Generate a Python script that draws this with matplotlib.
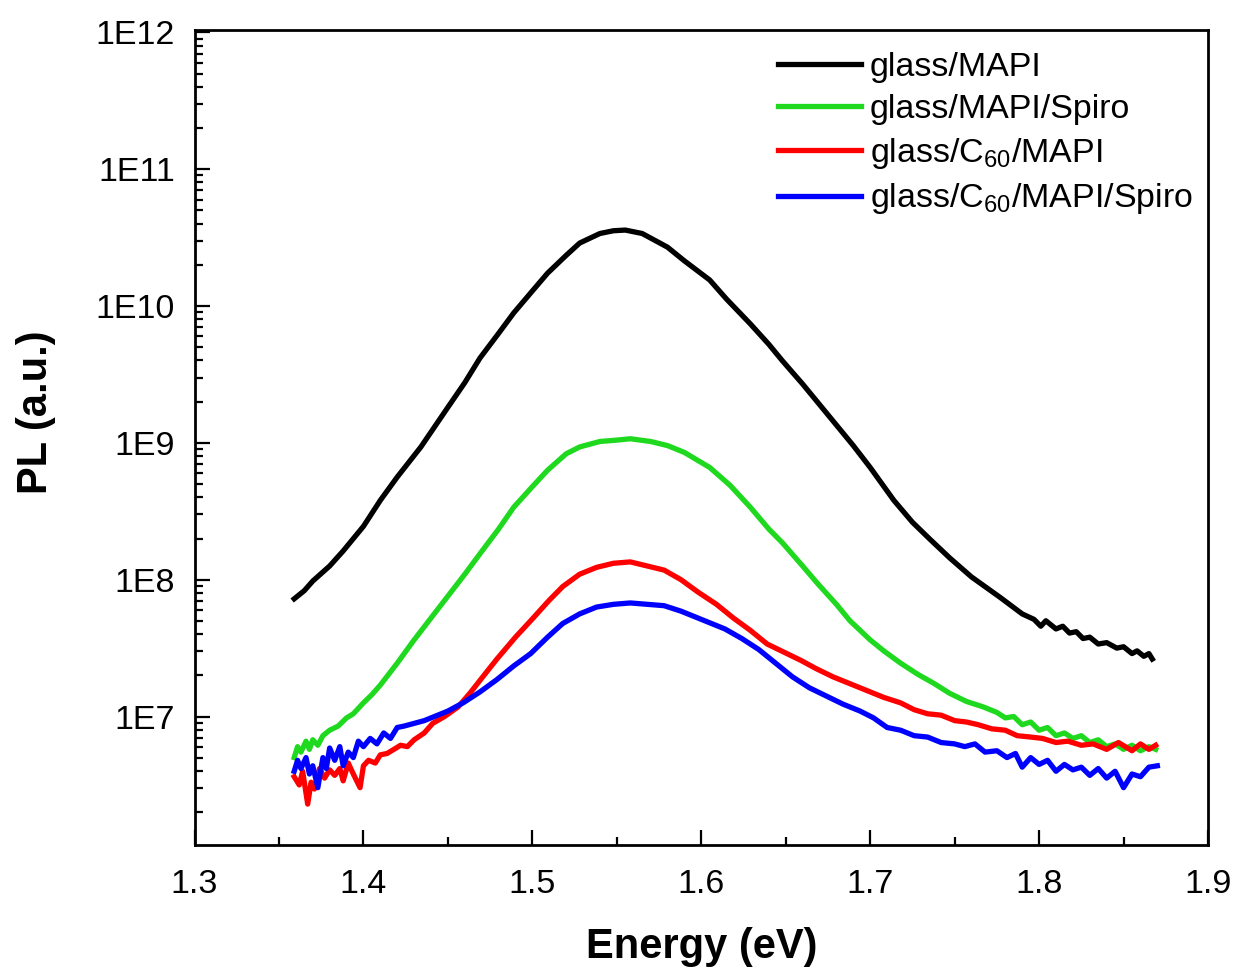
import numpy as np
import matplotlib
matplotlib.use('Agg')
import matplotlib.pyplot as plt
from matplotlib.ticker import FuncFormatter, LogLocator, MultipleLocator

plt.rcParams['font.family'] = ['Liberation Sans', 'DejaVu Sans']
plt.rcParams['mathtext.default'] = 'regular'

# =============================================================================
# PL spectra (energy in eV, PL as log10 of intensity)
# =============================================================================

black_e = [1.359, 1.365, 1.370, 1.380, 1.388, 1.400, 1.410, 1.420, 1.434, 1.450,
           1.460, 1.469, 1.480, 1.489, 1.500, 1.509, 1.520, 1.528, 1.540, 1.548,
           1.555, 1.565, 1.580, 1.590, 1.605, 1.615, 1.629, 1.640, 1.648, 1.660,
           1.678, 1.690, 1.700, 1.714, 1.725, 1.735, 1.747, 1.760, 1.777, 1.790,
           1.797, 1.801, 1.804, 1.810, 1.814, 1.818, 1.822, 1.826, 1.830, 1.835,
           1.840, 1.846, 1.850, 1.855, 1.858, 1.862, 1.865, 1.867]
black_log = [7.86, 7.92, 7.99, 8.10, 8.21, 8.39, 8.58, 8.75, 8.97, 9.26,
             9.44, 9.62, 9.80, 9.95, 10.11, 10.24, 10.37, 10.46, 10.53, 10.55,
             10.555, 10.53, 10.43, 10.33, 10.19, 10.05, 9.87, 9.72, 9.60, 9.43,
             9.16, 8.98, 8.82, 8.58, 8.42, 8.30, 8.16, 8.02, 7.87, 7.75,
             7.71, 7.66, 7.70, 7.64, 7.66, 7.61, 7.62, 7.57, 7.58, 7.53,
             7.54, 7.50, 7.51, 7.46, 7.48, 7.44, 7.46, 7.42]

green_e = [1.359, 1.361, 1.363, 1.366, 1.368, 1.370, 1.373, 1.376, 1.380, 1.385,
           1.390, 1.394, 1.400, 1.405, 1.410, 1.420, 1.430, 1.440, 1.450, 1.460,
           1.469, 1.480, 1.489, 1.500, 1.509, 1.520, 1.528, 1.540, 1.550, 1.558,
           1.570, 1.580, 1.590, 1.605, 1.617, 1.629, 1.640, 1.648, 1.660, 1.669,
           1.680, 1.688, 1.700, 1.708, 1.718, 1.728, 1.738, 1.747, 1.757, 1.767,
           1.775, 1.780, 1.785, 1.790, 1.795, 1.800, 1.805, 1.810, 1.815, 1.820,
           1.825, 1.830, 1.835, 1.840, 1.845, 1.850, 1.855, 1.860, 1.865, 1.869]
green_log = [6.70, 6.78, 6.74, 6.82, 6.76, 6.83, 6.79, 6.86, 6.90, 6.93,
             6.99, 7.02, 7.10, 7.16, 7.23, 7.39, 7.56, 7.72, 7.88, 8.04,
             8.19, 8.37, 8.53, 8.68, 8.80, 8.92, 8.97, 9.01, 9.02, 9.03,
             9.01, 8.98, 8.93, 8.82, 8.69, 8.53, 8.37, 8.27, 8.10, 7.97,
             7.82, 7.70, 7.56, 7.48, 7.39, 7.31, 7.24, 7.17, 7.11, 7.07,
             7.03, 6.99, 7.00, 6.94, 6.96, 6.90, 6.92, 6.86, 6.88, 6.84,
             6.86, 6.81, 6.83, 6.78, 6.80, 6.76, 6.79, 6.75, 6.78, 6.76]

red_e = [1.359, 1.362, 1.364, 1.367, 1.369, 1.371, 1.374, 1.377, 1.380, 1.383,
         1.386, 1.388, 1.391, 1.394, 1.398, 1.400, 1.403, 1.407, 1.410, 1.414,
         1.418, 1.422, 1.426, 1.430, 1.436, 1.441, 1.448, 1.456, 1.463, 1.470,
         1.479, 1.490, 1.499, 1.510, 1.518, 1.528, 1.538, 1.548, 1.558, 1.568,
         1.578, 1.588, 1.598, 1.609, 1.619, 1.629, 1.639, 1.649, 1.659, 1.668,
         1.678, 1.688, 1.698, 1.708, 1.718, 1.726, 1.734, 1.742, 1.750, 1.757,
         1.764, 1.772, 1.780, 1.787, 1.795, 1.802, 1.810, 1.817, 1.825, 1.832,
         1.840, 1.847, 1.855, 1.860, 1.865, 1.869]
red_log = [6.56, 6.50, 6.60, 6.36, 6.52, 6.47, 6.62, 6.55, 6.61, 6.57,
           6.62, 6.53, 6.66, 6.58, 6.48, 6.64, 6.68, 6.66, 6.72, 6.73,
           6.76, 6.79, 6.78, 6.83, 6.88, 6.95, 7.00, 7.07, 7.17, 7.28,
           7.42, 7.58, 7.70, 7.85, 7.95, 8.04, 8.09, 8.12, 8.13, 8.10,
           8.07, 8.00, 7.91, 7.82, 7.72, 7.63, 7.53, 7.47, 7.41, 7.35,
           7.29, 7.24, 7.19, 7.14, 7.10, 7.05, 7.02, 7.01, 6.97, 6.96,
           6.94, 6.91, 6.90, 6.86, 6.85, 6.84, 6.81, 6.82, 6.79, 6.80,
           6.76, 6.81, 6.75, 6.80, 6.76, 6.79]

blue_e = [1.359, 1.361, 1.363, 1.366, 1.368, 1.370, 1.373, 1.376, 1.378, 1.380,
          1.383, 1.386, 1.388, 1.391, 1.394, 1.397, 1.400, 1.404, 1.408, 1.412,
          1.416, 1.420, 1.424, 1.430, 1.436, 1.442, 1.450, 1.459, 1.469, 1.479,
          1.489, 1.499, 1.509, 1.518, 1.528, 1.538, 1.548, 1.558, 1.568, 1.578,
          1.588, 1.598, 1.606, 1.614, 1.624, 1.634, 1.644, 1.654, 1.664, 1.674,
          1.684, 1.694, 1.702, 1.710, 1.718, 1.726, 1.734, 1.742, 1.750, 1.756,
          1.762, 1.768, 1.775, 1.781, 1.786, 1.790, 1.795, 1.800, 1.805, 1.810,
          1.815, 1.820, 1.825, 1.830, 1.835, 1.840, 1.845, 1.850, 1.855, 1.860,
          1.865, 1.870]
blue_log = [6.60, 6.68, 6.62, 6.70, 6.58, 6.64, 6.48, 6.70, 6.62, 6.77,
            6.68, 6.78, 6.64, 6.74, 6.70, 6.82, 6.78, 6.84, 6.80, 6.88,
            6.84, 6.92, 6.93, 6.95, 6.97, 7.00, 7.04, 7.10, 7.18, 7.27,
            7.37, 7.46, 7.58, 7.68, 7.75, 7.80, 7.82, 7.83, 7.82, 7.81,
            7.77, 7.72, 7.68, 7.64, 7.57, 7.49, 7.39, 7.29, 7.21, 7.15,
            7.09, 7.04, 6.99, 6.92, 6.90, 6.86, 6.85, 6.81, 6.80, 6.78,
            6.80, 6.74, 6.75, 6.70, 6.73, 6.63, 6.70, 6.65, 6.68, 6.60,
            6.65, 6.61, 6.63, 6.57, 6.62, 6.55, 6.60, 6.48, 6.58, 6.56,
            6.63, 6.64]

labels = ['glass/MAPI', 'glass/MAPI/Spiro', 'glass/C$_{60}$/MAPI',
          'glass/C$_{60}$/MAPI/Spiro']
colors = ['#000000', '#1ed91e', '#ff0000', '#0000ff']

fig = plt.figure(figsize=(12.39, 9.68), dpi=100)
ax = fig.add_axes([0.157, 0.127, 0.818, 0.842])

series = [(black_e, black_log), (green_e, green_log), (red_e, red_log), (blue_e, blue_log)]
for (e, lg), lab, c in zip(series, labels, colors):
    ax.plot(e, 10 ** np.array(lg), color=c, lw=3.8, label=lab, solid_joinstyle='round')

ax.set_yscale('log')
ax.set_xlim(1.3, 1.9)
ax.set_ylim(1.15e6, 1.04e12)

ax.xaxis.set_major_locator(MultipleLocator(0.1))
ax.xaxis.set_minor_locator(MultipleLocator(0.05))
ax.yaxis.set_major_locator(LogLocator(base=10, numticks=20))
ax.yaxis.set_minor_locator(LogLocator(base=10, subs=np.arange(2, 10), numticks=20))
ax.yaxis.set_major_formatter(FuncFormatter(lambda v, p: '1E%d' % round(np.log10(v))))
ax.yaxis.set_minor_formatter(FuncFormatter(lambda v, p: ''))

ax.tick_params(which='both', direction='in', top=False, right=False, width=1.6, labelsize=24.5)
ax.tick_params(axis='y', which='major', length=11, pad=14)
ax.tick_params(axis='x', which='major', length=11, pad=17)
ax.tick_params(which='minor', length=5.5)
for s in ax.spines.values():
    s.set_linewidth(2)

ax.set_xlabel('Energy (eV)', fontsize=30, fontweight='bold', labelpad=20)
ax.set_ylabel('PL (a.u.)', fontsize=30, fontweight='bold')
ax.yaxis.set_label_coords(-0.137, 0.531)

ax.legend(loc='upper left', bbox_to_anchor=(0.562, 0.99), frameon=False, fontsize=24.5,
          handlelength=2.45, handletextpad=0.25, labelspacing=0.32, borderaxespad=0)

fig.savefig('out.png', dpi=100)
